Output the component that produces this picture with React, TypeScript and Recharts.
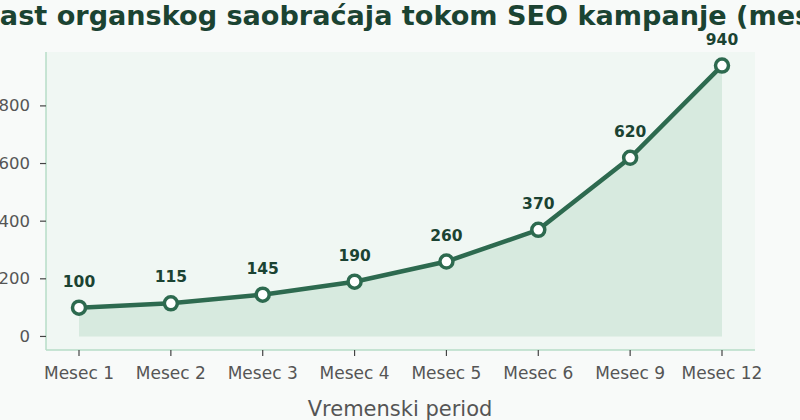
import React from 'react';
import { ComposedChart, Area, Line, XAxis, YAxis, CartesianGrid, LabelList } from 'recharts';

const months = ['Mesec 1', 'Mesec 2', 'Mesec 3', 'Mesec 4', 'Mesec 5', 'Mesec 6', 'Mesec 9', 'Mesec 12'];
const traffic = [100, 115, 145, 190, 260, 370, 620, 940];
const yTicks = [0, 200, 400, 600, 800];
const title = 'Rast organskog saobraćaja tokom SEO kampanje (mesečno)';
const xLabel = 'Vremenski period';

const data = months.map((m, i) => ({ month: m, value: traffic[i] }));

const FONT = '"DejaVu Sans", sans-serif';
const DARK = '#1b4332';
const LINE = '#2d6a4f';
const TICK = '#555555';

const XTick = (props: any) => {
  const { x, y, payload } = props;
  return (
    <text x={x} y={y + 16} textAnchor="middle" dominantBaseline="middle" fill={TICK} fontSize={17} fontFamily={FONT}>
      {payload.value}
    </text>
  );
};

const YTick = (props: any) => {
  const { x, y, payload } = props;
  return (
    <text x={x - 8} y={y + 1} textAnchor="end" dominantBaseline="middle" fill={TICK} fontSize={16.5} fontFamily={FONT}>
      {payload.value}
    </text>
  );
};

export default function App() {
  return (
    <div style={{ position: 'fixed', left: 0, top: 0, width: 800, height: 420, background: '#f8faf9', fontFamily: FONT }}>
      <ComposedChart width={800} height={420} data={data} margin={{ top: 52, right: 45, bottom: 40, left: 0 }}>
        <CartesianGrid horizontal={false} vertical={false} fill="#f0f7f3" stroke="none" />
        <XAxis
          dataKey="month"
          scale="point"
          padding={{ left: 33, right: 33 }}
          height={30}
          axisLine={{ stroke: '#b7dcc7', strokeWidth: 1.5 }}
          tickLine={{ stroke: '#444', strokeWidth: 1.2 }}
          tickSize={6}
          tick={<XTick />}
          interval={0}
        />
        <YAxis
          type="number"
          domain={[-47, 987]}
          ticks={yTicks}
          width={46}
          axisLine={{ stroke: '#b7dcc7', strokeWidth: 1.5 }}
          tickLine={{ stroke: '#444', strokeWidth: 1.2 }}
          tickSize={6}
          tick={<YTick />}
          allowDataOverflow
        />
        <Area
          dataKey="value"
          type="linear"
          baseValue={0}
          fill="#d2e7db"
          fillOpacity={0.85}
          stroke="none"
          isAnimationActive={false}
        />
        <Line
          dataKey="value"
          type="linear"
          stroke={LINE}
          strokeWidth={4.5}
          dot={{ r: 6.5, fill: '#ffffff', stroke: LINE, strokeWidth: 3.5 }}
          isAnimationActive={false}
        >
          <LabelList
            dataKey="value"
            position="top"
            offset={21}
            fill={DARK}
            fontSize={15.5}
            fontWeight="bold"
            fontFamily={FONT}
          />
        </Line>
        <text x={-21} y={25} textAnchor="start" fill={DARK} fontSize={27.1} fontWeight="bold" fontFamily={FONT}>
          {title}
        </text>
        <text x={400} y={410} textAnchor="middle" dominantBaseline="middle" fill={TICK} fontSize={21} fontFamily={FONT}>
          {xLabel}
        </text>
      </ComposedChart>
    </div>
  );
}
